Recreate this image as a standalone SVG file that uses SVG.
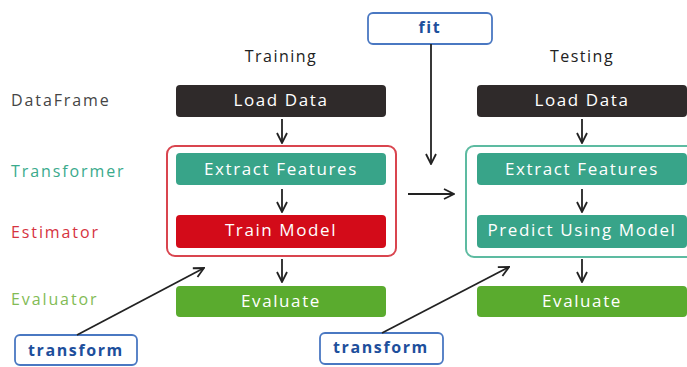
<svg xmlns="http://www.w3.org/2000/svg" width="687" height="367" viewBox="0 0 687 367">
<defs>
<marker id="arr" viewBox="0 0 12 12" refX="11" refY="6" markerWidth="12" markerHeight="12" markerUnits="userSpaceOnUse" orient="auto">
<path d="M1,1 L11,6 L1,11" fill="none" stroke="#222" stroke-width="1.8"/>
</marker>
<style>
text{font-family:"Open Sans","DejaVu Sans",sans-serif}
.bt{fill:#fff;font-size:17px;text-anchor:middle;letter-spacing:1.6px}
.hd{fill:#222;font-size:16px;text-anchor:middle;letter-spacing:1.5px}
.lb{font-size:16px;letter-spacing:1.9px}
.tf{fill:#1d4f9c;font-size:16px;font-weight:bold;text-anchor:middle;letter-spacing:1.6px}
.ob{fill:#fff;stroke:#4a78c2;stroke-width:1.8}
.ln{fill:none;stroke:#222;stroke-width:1.8;marker-end:url(#arr)}
</style>
</defs>
<rect width="687" height="367" fill="#fff"/>
<text class="hd" x="281" y="62">Training</text>
<text class="hd" x="582" y="62">Testing</text>
<text class="lb" x="11" y="106" fill="#454545">DataFrame</text>
<text class="lb" x="11" y="177" fill="#3aaa8c">Transformer</text>
<text class="lb" x="11" y="238" fill="#d6333f">Estimator</text>
<text class="lb" x="11" y="305" fill="#82bb55">Evaluator</text>
<g id="training-group"><rect x="167" y="146" width="229" height="110" rx="8" fill="none" stroke="#d9454f" stroke-width="2"/></g>
<g id="testing-group"><rect x="466" y="146" width="230" height="111" rx="8" fill="none" stroke="#5dbba1" stroke-width="2"/></g>
<g id="fit"><rect class="ob" x="368" y="13" width="124" height="31" rx="5"/><text class="tf" x="430" y="33">fit</text></g>
<g id="tr-load"><rect x="176" y="85" width="210" height="32" rx="4" fill="#2f2a2a"/><text class="bt" x="281" y="106">Load Data</text></g>
<g id="tr-extract"><rect x="176" y="153" width="210" height="32" rx="4" fill="#38a489"/><text class="bt" x="281" y="175">Extract Features</text></g>
<g id="tr-train"><rect x="176" y="215" width="210" height="33" rx="4" fill="#d30b19"/><text class="bt" x="281" y="236">Train Model</text></g>
<g id="tr-eval"><rect x="176" y="286" width="210" height="31" rx="4" fill="#5aab2e"/><text class="bt" x="281" y="307">Evaluate</text></g>
<g id="te-load"><rect x="477" y="85" width="210" height="32" rx="4" fill="#2f2a2a"/><text class="bt" x="582" y="106">Load Data</text></g>
<g id="te-extract"><rect x="477" y="153" width="210" height="32" rx="4" fill="#38a489"/><text class="bt" x="582" y="175">Extract Features</text></g>
<g id="te-predict"><rect x="477" y="215" width="210" height="33" rx="4" fill="#38a489"/><text class="bt" x="582" y="236">Predict Using Model</text></g>
<g id="te-eval"><rect x="477" y="286" width="210" height="31" rx="4" fill="#5aab2e"/><text class="bt" x="582" y="307">Evaluate</text></g>
<g id="transform-1"><rect class="ob" x="15" y="335" width="122" height="30" rx="5"/><text class="tf" x="76" y="356">transform</text></g>
<g id="transform-2"><rect class="ob" x="320" y="333" width="123" height="31" rx="5"/><text class="tf" x="381" y="353">transform</text></g>
<g id="connectors">
<line class="ln" x1="282" y1="119" x2="282" y2="143"/>
<line class="ln" x1="282" y1="189" x2="282" y2="212"/>
<line class="ln" x1="282" y1="259" x2="282" y2="282"/>
<line class="ln" x1="582" y1="119" x2="582" y2="143"/>
<line class="ln" x1="582" y1="189" x2="582" y2="212"/>
<line class="ln" x1="582" y1="259" x2="582" y2="282"/>
<line class="ln" x1="431" y1="44" x2="431" y2="164"/>
<line class="ln" x1="408" y1="194" x2="454" y2="194"/>
<line class="ln" x1="77" y1="335" x2="204" y2="268"/>
<line class="ln" x1="382" y1="333" x2="509" y2="267"/>
</g>
</svg>
